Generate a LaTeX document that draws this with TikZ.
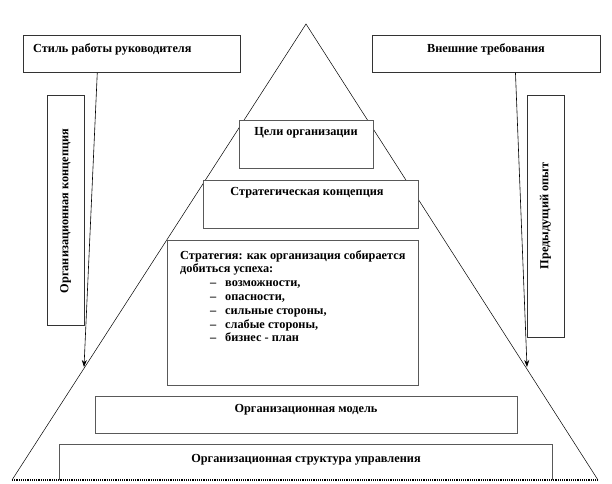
\documentclass[tikz,border=0pt]{standalone}
\usepackage{fontspec}
\setmainfont{Liberation Serif}
\usetikzlibrary{calc,arrows.meta}
\begin{document}
\begin{tikzpicture}[x=1pt,y=-1pt,
  box/.style={draw=black!65, line width=1pt, fill=white, inner sep=0pt, anchor=north west},
  dbox/.style={draw=black!80, line width=0.8pt, fill=white, inner sep=0pt, anchor=north west},
  txt/.style={font=\fontsize{12.3}{13.8}\selectfont\bfseries, inner sep=0pt},
  side/.style={draw=black, line width=0.5pt},
  arr/.style={draw=black, line width=0.6pt, -{Stealth[length=7pt,width=5pt]}}]
\useasboundingbox (0,0) rectangle (612,483);
% triangle
\coordinate (apex) at (306,24);
\coordinate (bl) at (12,480);
\coordinate (br) at (598,480);
\draw[side] (bl) -- (apex) -- (br);
% top boxes
\node[dbox, minimum width=217pt, minimum height=37pt] (stil) at (23,35) {};
\node[txt, anchor=west] (stilt) at (33,49) {Стиль  работы руководителя};
\node[dbox, minimum width=228pt, minimum height=37pt] (vnesh) at (372,35) {};
\node[txt] (vnesht) at (486,49) {Внешние требования};
% vertical boxes
\node[dbox, minimum width=37pt, minimum height=230pt] (orgk) at (47,95) {};
\node[txt, rotate=90] (orgkt) at (65.5,211) {Организационная концепция};
\node[dbox, minimum width=37pt, minimum height=242pt] (pred) at (527,95) {};
\node[txt, rotate=90] (predt) at (545.5,216) {Предыдущий опыт};
% arrows
\coordinate (la) at (84,367);
\coordinate (ra) at (527,367);
\draw[arr] ($(stil.south west)!0.341!(stil.south east)$) -- (la);
\draw[arr] ($(vnesh.south west)!0.627!(vnesh.south east)$) -- (ra);
% pyramid boxes
\node[box, minimum width=134pt, minimum height=48pt] (celi) at (239,120) {};
\node[txt] (celit) at (306,133) {Цели организации};
\node[box, minimum width=215pt, minimum height=48pt] (strk) at (203,180) {};
\node[txt] (strkt) at (307,193) {Стратегическая концепция};
\node[box, minimum width=251pt, minimum height=145pt] (strat) at (167,240) {};
\node[txt, anchor=north west, align=left] (stratt) at (180,250) {Стратегия:  как организация собирается\\
добиться успеха:\\
\hspace*{30pt}\makebox[15pt][l]{–}возможности,\\
\hspace*{30pt}\makebox[15pt][l]{–}опасности,\\
\hspace*{30pt}\makebox[15pt][l]{–}сильные стороны,\\
\hspace*{30pt}\makebox[15pt][l]{–}слабые стороны,\\
\hspace*{30pt}\makebox[15pt][l]{–}бизнес - план};
\node[box, minimum width=422pt, minimum height=37pt] (model) at (95,396) {};
\node[txt] (modelt) at (306,410) {Организационная модель};
\draw[black!65, line width=1pt, fill=white] (59,480) -- (59,444) -- (552,444) -- (552,480);
\node[txt] (osu) at (306,460) {Организационная структура управления};
\draw[black, line width=1.2pt, densely dotted] (bl) -- (br);
\end{tikzpicture}
\end{document}
